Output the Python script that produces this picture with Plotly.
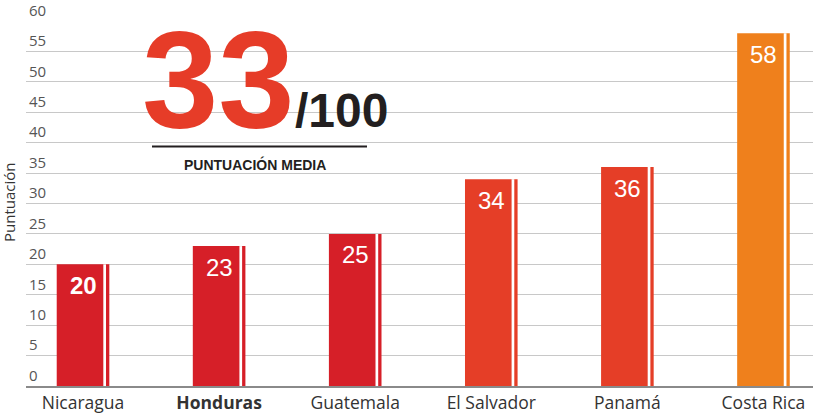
import plotly.graph_objects as go

countries = ["Nicaragua", "Honduras", "Guatemala", "El Salvador", "Panamá", "Costa Rica"]
tick_labels = ["Nicaragua", "<b>Honduras</b>", "Guatemala", "El Salvador", "Panamá", "Costa Rica"]
scores = [20, 23, 25, 34, 36, 58]
bar_colors = ["#d61f28", "#d61f28", "#d61f28", "#e53e27", "#e53e27", "#ef801c"]
label_bold = [True, False, False, False, False, False]
average_score = 33
max_score = 100
y_ticks = [0, 5, 10, 15, 20, 25, 30, 35, 40, 45, 50, 55, 60]

W, H = 813, 418
ML, MR, MT, MB = 26, 0, 17, 32
PW, PH = W - ML - MR, H - MT - MB
X0, X1 = -0.419, 5.364
PX_PER_CAT = PW / (X1 - X0)


def px_x(p):
    return (p - ML) / PW


def px_y(p):
    return (H - MB - p) / PH


xs = list(range(len(countries)))

fig = go.Figure()
# full bar (main + stripe)
fig.add_trace(go.Bar(
    x=xs, y=scores,
    offset=-26.3 / PX_PER_CAT, width=52.6 / PX_PER_CAT,
    marker=dict(color=bar_colors, line=dict(width=0)),
    hoverinfo="skip", showlegend=False,
))
# white gap separating the thin stripe
fig.add_trace(go.Bar(
    x=xs, y=scores,
    offset=20.3 / PX_PER_CAT, width=2.7 / PX_PER_CAT,
    marker=dict(color="white", line=dict(width=0)),
    hoverinfo="skip", showlegend=False,
))

annotations = []
for x, v, b in zip(xs, scores, label_bold):
    annotations.append(dict(
        x=x, y=v, xref="x", yref="y", yshift=-21,
        text=f"<b>{v}</b>" if b else str(v), showarrow=False,
        font=dict(family="Liberation Sans, Arial", size=24, color="white"),
        xanchor="center", yanchor="middle",
    ))

narrow = "Liberation Sans Narrow, Liberation Sans, Arial"
big = 137
annotations.append(dict(
    x=px_x(218), y=px_y(125 + 0.212 * big + 1), xref="paper", yref="paper",
    text=f"<b>{average_score}</b>", showarrow=False,
    font=dict(family=narrow, size=big, color="#e63c28"),
    xanchor="center", yanchor="bottom",
))
small = 48
annotations.append(dict(
    x=px_x(293), y=px_y(125 + 0.212 * small + 1), xref="paper", yref="paper",
    text=f"<b>/{max_score}</b>", showarrow=False,
    font=dict(family=narrow, size=small, color="#231f20"),
    xanchor="left", yanchor="bottom",
))
lab = 14
annotations.append(dict(
    x=px_x(255), y=px_y(169 + 0.212 * lab + 1), xref="paper", yref="paper",
    text="<b>PUNTUACIÓN MEDIA</b>", showarrow=False,
    font=dict(family=narrow, size=lab, color="#231f20"),
    xanchor="center", yanchor="bottom",
))
annotations.append(dict(
    x=px_x(9), y=px_y(200), xref="paper", yref="paper",
    text="Puntuación", showarrow=False, textangle=-90,
    font=dict(family="Open Sans, Noto Sans", size=15, color="#333333"),
    xanchor="center", yanchor="middle",
))

fig.update_layout(
    width=W, height=H,
    margin=dict(l=ML, r=MR, t=MT, b=MB),
    paper_bgcolor="white", plot_bgcolor="white",
    barmode="overlay",
    annotations=annotations,
    shapes=[dict(type="line", xref="paper", yref="paper",
                 x0=px_x(152), x1=px_x(367), y0=px_y(144), y1=px_y(144),
                 line=dict(color="#231f20", width=2))],
    xaxis=dict(
        range=[X0, X1], tickmode="array", tickvals=xs, ticktext=tick_labels,
        showgrid=False, zeroline=False, showline=True, linecolor="#8a8a8a", linewidth=2,
        ticks="", tickfont=dict(family="Open Sans, Noto Sans", size=17.5, color="#333333"),
        fixedrange=True,
    ),
    yaxis=dict(
        range=[0, 60], tickmode="array", tickvals=y_ticks,
        showgrid=True, gridcolor="#c8c8c8", gridwidth=1, zeroline=False,
        ticks="", ticklabelposition="inside top", ticklabeloverflow="allow",
        tickfont=dict(family="Open Sans, Noto Sans", size=15, color="#555555"),
        fixedrange=True,
    ),
)

fig.write_html("out.html", config={"displayModeBar": False},
               post_script="document.body.style.margin='0';")
